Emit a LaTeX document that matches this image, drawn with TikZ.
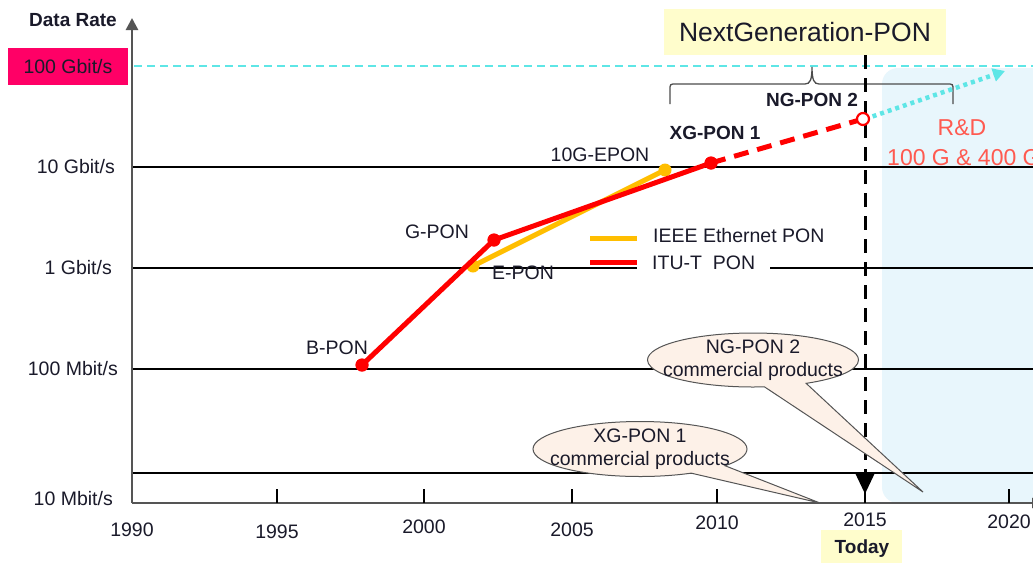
\documentclass[tikz,border=0pt]{standalone}
\usepackage{fontspec}
\setmainfont{Liberation Sans}
\usetikzlibrary{arrows.meta,shapes.callouts,shapes.geometric}
\definecolor{magbox}{HTML}{FF0066}
\definecolor{ylbox}{HTML}{FFFDCC}
\definecolor{cyanl}{HTML}{5EE6E6}
\definecolor{rdblue}{HTML}{E8F6FC}
\definecolor{itured}{HTML}{FF0000}
\definecolor{ieeeor}{HTML}{FFBE00}
\definecolor{rdtext}{HTML}{FF5A50}
\definecolor{callfill}{HTML}{FDF1E8}
\definecolor{axisgray}{HTML}{555555}
\definecolor{txt}{HTML}{1A1A2A}
\tikzset{
  lbl/.style={font=\fontsize{19.5}{21}\selectfont, inner sep=0pt, text=txt},
  blbl/.style={lbl, font=\fontsize{19}{21}\selectfont\bfseries},
  grid line/.style={line width=1.2pt, black},
  axis line/.style={line width=2.6pt, axisgray},
  tick line/.style={line width=1.2pt, black},
  itu/.style={line width=5pt, itured},
  ieee/.style={line width=5pt, ieeeor},
  reddot/.style={circle, fill=itured, minimum size=13pt, inner sep=0pt},
  oradot/.style={circle, fill=ieeeor, minimum size=13pt, inner sep=0pt},
  opendot/.style={circle, draw=itured, line width=2.2pt, fill=white, minimum size=12pt, inner sep=0pt},
  callbox/.style={ellipse callout, draw=axisgray, line width=1pt, fill=callfill, minimum width=211pt, minimum height=54pt, inner sep=0pt, callout pointer arc=24},
}
\begin{document}
\begin{tikzpicture}[x=1pt,y=-1pt]
\useasboundingbox (0,0) rectangle (1033,563);
\fill[white] (0,0) rectangle (1033,563);
% R&D region
\fill[rdblue, rounded corners=16pt] (882,68) rectangle (1060,503);
% cyan 100G line
\draw[cyanl, line width=1.3pt, dash pattern=on 8pt off 5pt] (134,66) -- (1033,66);
% grid lines
\draw[grid line] (132,167) -- (1033,167);
\draw[grid line] (132,268) -- (637,268);
\draw[grid line] (770,268) -- (1033,268);
\draw[grid line] (132,369) -- (1033,369);
\draw[grid line] (132,473) -- (1033,473);
% axes
\coordinate (yorig) at (132,503);
\coordinate (ytop) at (132,18);
\coordinate (xend) at (1042,503);
\draw[axis line, -{Triangle[width=12pt,length=12pt]}] (yorig) -- (ytop);
\draw[axis line, -{Triangle[width=10pt,length=10pt]}] (yorig) -- (xend);
\foreach \x in {277,424,572,717,865,1009} \draw[tick line] (\x,489) -- (\x,503);
% y labels
\node[blbl] (datarate) at (73,20) {Data Rate};
\node[fill=magbox, minimum width=120pt, minimum height=37pt, inner sep=0pt] (g100box) at (68,66.5) {};
\node[lbl] (g100) at (g100box.center) {100 Gbit/s};
\node[lbl, anchor=east] (g10) at (115,167) {10 Gbit/s};
\node[lbl, anchor=east] (g1) at (112,268) {1 Gbit/s};
\node[lbl, anchor=east] (m100) at (118,369) {100 Mbit/s};
\node[lbl, anchor=east] (m10) at (113,499) {10 Mbit/s};
% x labels
\node[lbl] (y1990) at (132,530) {1990};
\node[lbl] (y1995) at (277,532) {1995};
\node[lbl] (y2000) at (424,527) {2000};
\node[lbl] (y2005) at (572,530) {2005};
\node[lbl] (y2010) at (717,523) {2010};
\node[lbl] (y2015) at (865,520) {2015};
\node[lbl] (y2020) at (1009,522) {2020};
\node[fill=ylbox, minimum width=81pt, minimum height=33pt, inner sep=0pt] (todaybox) at (861.5,546.5) {};
\node[blbl] (today) at (862,549) {Today};
% Next generation box
\node[fill=ylbox, minimum width=282pt, minimum height=46pt, inner sep=0pt] (ngbox) at (805,32) {};
\node[lbl, font=\fontsize{26.5}{28}\selectfont] (ngtext) at (ngbox.center) {NextGeneration-PON};
% brace
\draw[line width=1.3pt, black!70] (670,104) -- (670,90) .. controls (670,84) .. (676,84) -- (805,84)
  .. controls (810,84) and (812,80) .. (812,67) .. controls (812,80) and (814,84) .. (819,84)
  -- (947,84) .. controls (953,84) .. (953,90) -- (953,104);
% today line
\coordinate (ttop) at (865,55);
\coordinate (tarrow) at (865,494);
\coordinate (tbot) at (865,503);
\draw[line width=3pt, black, dash pattern=on 14pt off 9pt, -{Triangle[width=18pt,length=20pt]}] (ttop) -- (tarrow);
\draw[line width=2pt, black] (tarrow) -- (tbot);
% data points
\node[oradot] (epon) at (473,266) {};
\node[oradot] (tgepon) at (665,170) {};
\node[reddot] (bpon) at (362,365) {};
\node[reddot] (gpon) at (494,240) {};
\node[reddot] (xgpon) at (711,163) {};
\draw[ieee] (epon.center) -- (tgepon.center);
\draw[itu] (bpon.center) -- (gpon.center) -- (xgpon.center);
\node[reddot] at (bpon) {};
\node[reddot] at (gpon) {};
\node[reddot] at (xgpon) {};
\draw[itu, dash pattern=on 15pt off 9pt] (xgpon.center) -- (863,119);
\coordinate (rdtip) at (1005,71);
\draw[cyanl, line width=4.5pt, dash pattern=on 4pt off 4pt, -{Triangle[width=13pt,length=12pt]}] (865,119) -- (rdtip);
\node[opendot] (ngpon2) at (863,119) {};
% labels
\node[lbl] (lbpon) at (337,348) {B-PON};
\node[lbl] (lgpon) at (437,232) {G-PON};
\node[lbl] (lepon) at (523,273) {E-PON};
\node[lbl] (ltge) at (600,155) {10G-EPON};
\node[blbl] (lxg) at (715,133) {XG-PON 1};
\node[blbl] (lng) at (812,100) {NG-PON 2};
% legend
\coordinate (lo1) at (590,238); \coordinate (lo2) at (637,238);
\coordinate (lr1) at (590,262); \coordinate (lr2) at (637,262);
\draw[ieee] (lo1) -- (lo2);
\draw[itu] (lr1) -- (lr2);
\node[lbl, anchor=west] (legieee) at (653,236) {IEEE Ethernet PON};
\node[lbl, anchor=west] (legitu) at (652,263) {ITU-T\ \ PON};
% R&D
\node[lbl, text=rdtext, font=\fontsize{23}{25}\selectfont] (rd) at (962,128) {R\&D};
\node[lbl, text=rdtext, font=\fontsize{23}{25}\selectfont, anchor=west] (rdsize) at (887,158) {100 G \& 400 G};
% callouts
\coordinate (tipng) at (923,492);
\coordinate (tipxg) at (820,503);
\node[callbox, callout absolute pointer={(tipng)}] (callng) at (753,360) {};
\node[lbl, align=center, font=\fontsize{19.5}{23}\selectfont] (callngtxt) at (callng.center) {NG-PON 2\\commercial products};
\node[callbox, minimum width=214pt, minimum height=55pt, callout absolute pointer={(tipxg)}] (callxg) at (640,449) {};
\node[lbl, align=center, font=\fontsize{19.5}{23}\selectfont] (callxgtxt) at (callxg.center) {XG-PON 1\\commercial products};
\end{tikzpicture}
\end{document}
